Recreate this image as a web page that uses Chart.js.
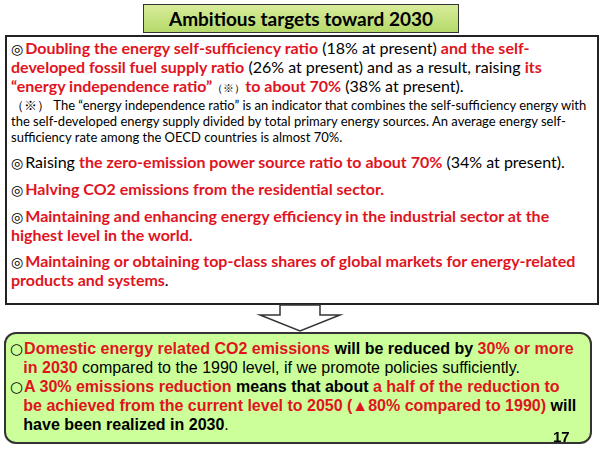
<!DOCTYPE html><html><head><meta charset="utf-8">
<script src="https://cdn.jsdelivr.net/npm/chart.js@4"></script>
<style>
body{margin:0;width:600px;height:450px;background:#fff;position:relative;overflow:hidden;font-family:Lato,"Liberation Sans",sans-serif}
.title{position:absolute;left:143px;top:4px;width:314px;height:27px;border:1px solid #333;background:linear-gradient(#d8ec9a,#b5d96a);text-align:center;font:bold 19px Lato;line-height:27px;color:#000}
.main{position:absolute;left:5px;top:35px;width:580px;height:266px;border:2px solid #222;padding:0 6px 0 4px;font-size:16px;line-height:19px;color:#000}
.r{color:#e0141e;font-weight:bold}
.s{font-family:"DejaVu Sans";font-size:14px;line-height:1;margin-right:2px}
p{margin:0}
.note{font-size:13px;line-height:16px;margin-top:0}
.bot{position:absolute;left:4px;top:332px;width:588px;height:112px;border:2px solid #333;border-radius:12px;background:#ccff99;font:16px "Liberation Sans";line-height:19px;color:#000;padding:5px 0 0 4px;box-sizing:border-box}
.bot .r{color:#e0141e}
.o{font-family:"DejaVu Sans";font-size:15px;line-height:1;margin-right:1px}
#c{position:absolute;left:250px;top:303px}
.num{position:absolute;left:553px;top:428px;font:bold 15px "Liberation Sans"}
</style></head><body>
<div class="title">Ambitious targets toward 2030</div>
<div class="main">
<p style="margin-top:1px"><span class="s">◎</span><span class="r">Doubling the energy self-sufficiency ratio</span> (18% at present) <span class="r">and the self-developed fossil fuel supply ratio</span> (26% at present) and as a result, raising <span class="r">its “energy independence ratio”</span><span style="font-size:11px">（※）</span><span class="r">to about 70%</span> (38% at present).</p>
<p class="note">（※） The “energy independence ratio” is an indicator that combines the self-sufficiency energy with the self-developed energy supply divided by total primary energy sources. An average energy self-sufficiency rate among the OECD countries is almost 70%.</p>
<p style="margin-top:7px"><span class="s">◎</span>Raising <span class="r">the zero-emission power source ratio to about 70%</span> (34% at present).</p>
<p style="margin-top:8px"><span class="s">◎</span><span class="r">Halving CO2 emissions from the residential sector.</span></p>
<p style="margin-top:8px"><span class="s">◎</span><span class="r">Maintaining and enhancing energy efficiency in the industrial sector at the highest level in the world.</span></p>
<p style="margin-top:7px"><span class="s">◎</span><span class="r">Maintaining  or obtaining top-class shares of global markets for energy-related products and systems</span>.</p>
</div>
<canvas id="c" width="100" height="30"></canvas>
<div class="bot">
<p><span class="o">○</span><span class="r">Domestic energy related CO2 emissions</span> <b>will be reduced by</b> <span class="r">30% or more</span><br>&nbsp;&nbsp;&nbsp;<span class="r">in 2030</span> compared to the 1990 level, if we promote policies sufficiently.</p>
<p><span class="o">○</span><span class="r">A 30% emissions reduction</span> <b>means that about</b> <span class="r">a half of the reduction to</span><br>&nbsp;&nbsp;&nbsp;<span class="r">be achieved from the current level to 2050 (▲80% compared to 1990)</span> <b>will</b><br>&nbsp;&nbsp;&nbsp;<b>have been realized in 2030</b>.</p>
</div>
<div class="num">17</div>
<script>
const arrowLabels=['arrow'];
const arrowValues=[1];
new Chart(document.getElementById('c'),{type:'bar',data:{labels:arrowLabels,datasets:[{data:arrowValues,backgroundColor:'rgba(0,0,0,0)'}]},
options:{responsive:false,animation:false,events:[],plugins:{legend:{display:false},tooltip:{enabled:false}},scales:{x:{display:false},y:{display:false}}},
plugins:[{id:'arrow',afterDraw(ch){const c=ch.ctx;c.save();c.fillStyle='#fff';c.strokeStyle='#333';c.lineWidth=1.5;c.beginPath();
c.moveTo(30,2);c.lineTo(70,2);c.lineTo(70,12);c.lineTo(90,12);c.lineTo(50,28);c.lineTo(10,12);c.lineTo(30,12);c.closePath();c.fill();c.stroke();c.restore();}}]});
</script>
</body></html>
